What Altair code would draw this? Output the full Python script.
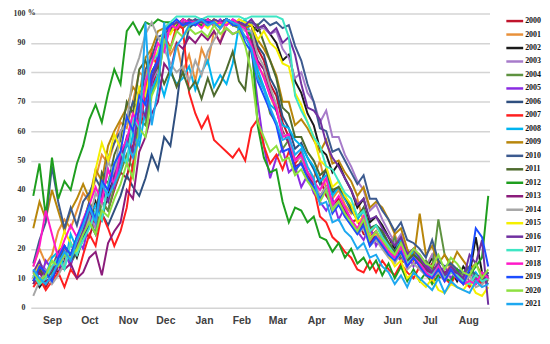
import altair as alt
import pandas as pd

years = [str(y) for y in range(2000, 2022)]
colors = ["#C0142C", "#E8903A", "#1A1A1A", "#A77BCA", "#5E9240", "#8A2BE2",
          "#2F4F7F", "#FF1F1F", "#00B4F0", "#B8860B", "#3C5A8F", "#4E6B2E",
          "#1E9E1E", "#8B1C7B", "#A6A6A6", "#F5F000", "#7030A0", "#3EE6C4",
          "#FF19C8", "#1C4CFF", "#8EE040", "#1EA8F0"]

# day of season (0 = 1 Sep), every 5 days
days = list(range(0, 366, 5))
month_names = ["Sep", "Oct", "Nov", "Dec", "Jan", "Feb", "Mar", "Apr", "May", "Jun", "Jul", "Aug"]
month_mid = [15, 45, 76, 106, 137, 167, 196, 227, 257, 288, 318, 349]
y_ticks = [0, 10, 20, 30, 40, 50, 60, 70, 80, 90, 100]

v2000 = [9,14,7,11,15,18, 16,21,26,24,31,36, 33,40,46,44,55,62, 66,74,82,90,95,94,
         97,96,98,97,98,96,97, 98,97,97,95,96,88, 84,76,72,63,58,50, 53,46,42,44,38,35,
         37,33,29,30,25,24, 26,21,19,22,16,15, 17,14,12,15,10,11, 14,11,9,13,8,10,11]
v2001 = [14,20,15,18,26,30, 27,33,39,36,44,52, 49,56,63,61,70,80, 78,88,84,93,86,90,
         80,86,77,88,83,94,90, 98,96,97,95,94,82, 79,72,67,60,56,49, 52,46,44,50,40,37,
         40,35,32,37,29,25, 28,24,21,25,19,16, 20,17,14,18,13,11, 15,12,10,14,9,11,12]
v2002 = [11,7,10,14,12,16, 22,17,24,29,36,30, 39,44,52,55,64,60, 75,80,84,93,95,97,
         96,98,97,98,96,98,97, 98,97,97,96,96,94, 96,93,90,84,86,77, 73,66,62,54,52,46,
         49,44,40,34,37,29, 31,28,24,20,23,17, 19,15,13,17,12,11, 13,9,14,11,24,12,10]
v2003 = [10,15,13,9,17,20, 18,23,27,31,27,39, 36,43,49,52,57,67, 64,77,81,91,94,96,
         95,97,96,98,97,97,95, 97,96,98,97,97,95, 95,93,94,88,85,78, 80,73,70,63,67,58,
         58,52,48,43,40,33, 35,30,26,22,25,18, 20,16,14,18,12,11, 14,12,10,13,9,10,12]
v2004 = [8,12,9,10,14,18, 15,19,23,30,25,36, 33,41,46,52,47,64, 62,73,78,90,94,96,
         95,97,96,98,97,97,96, 97,96,95,92,91,79, 75,66,63,54,57,46, 50,46,40,37,41,34,
         36,33,29,26,29,22, 25,21,19,24,17,16, 19,14,16,13,30,18, 15,13,11,14,10,9,12]
v2005 = [12,8,16,13,11,19, 14,24,20,29,33,38, 47,41,50,56,66,61, 72,76,87,90,96,95,
         97,96,98,97,97,96,98, 96,98,97,96,88,70, 55,44,51,54,46,48, 41,45,39,36,33,37,
         30,34,30,26,23,28, 21,25,22,18,16,19, 14,18,15,12,11,14, 10,13,12,9,10,8,12]
v2006 = [10,14,12,9,16,19, 16,19,24,29,25,32, 28,33,38,45,41,38, 44,52,47,58,55,69,
         86,95,97,98,97,97,96, 98,97,97,95,96,89, 86,78,74,65,61,54, 56,51,47,42,47,39,
         41,37,33,30,34,26, 28,25,21,18,22,15, 18,17,12,11,15,10, 13,12,9,8,11,10,8]
v2007 = [7,10,6,9,12,7, 13,10,18,25,21,32, 27,21,26,34,49,60, 74,86,82,93,88,96,
         95,73,66,61,65,57,55, 53,51,54,50,61,64, 55,49,52,47,53,49, 52,45,41,31,29,24,
         22,19,17,13,12,16, 12,16,13,11,15,12, 10,14,11,9,13,10, 8,12,9,7,11,8,10]
v2008 = [13,9,11,17,19,14, 25,20,26,31,35,30, 42,46,52,49,59,55, 67,74,79,72,80,76,
         78,82,74,80,84,75,79, 76,83,96,98,92,81, 75,69,67,62,61,57, 55,51,48,43,45,38,
         41,37,34,30,33,27, 28,26,22,19,23,17, 19,17,13,12,14,10, 13,12,9,8,12,9,11]
v2009 = [27,36,30,40,33,26, 33,37,42,37,47,43, 55,60,64,68,75,72, 85,88,94,95,97,95,
         98,97,97,96,98,97,97, 98,96,97,95,96,91, 88,84,79,70,70,62, 64,61,57,53,57,49,
         50,46,43,38,41,34, 36,34,30,25,27,20, 16,32,18,21,15,18, 14,19,16,13,15,11,12]
v2010 = [15,23,29,48,36,27, 34,28,36,39,44,40, 51,56,60,63,70,67, 81,85,92,93,97,96,
         98,97,98,97,98,96,97, 98,97,97,96,97,96, 98,96,97,95,96,89, 84,76,70,61,60,53,
         54,50,46,42,45,37, 37,33,30,26,29,23, 22,20,17,23,16,14, 15,13,12,14,11,10,12]
v2011 = [9,13,10,12,16,21, 18,24,29,36,31,46, 42,52,57,70,66,81, 84,78,82,76,81,75,
         80,74,77,71,78,72,76, 81,87,77,74,93,96, 90,84,78,68,66,58, 58,53,50,45,47,40,
         41,38,34,31,34,27, 28,26,22,19,22,16, 18,16,13,12,14,10, 13,11,9,8,11,10,9]
v2012 = [38,49,31,51,37,43, 40,49,55,64,69,63, 73,81,76,94,97,93, 97,96,98,97,97,96,
         98,97,97,96,98,97,97, 98,96,96,95,92,62, 51,46,47,36,29,34, 33,29,31,24,23,19,
         22,17,20,15,17,13, 16,11,15,10,14,9, 13,9,12,8,11,10, 9,13,8,11,14,17,38]
v2013 = [8,12,9,10,14,13, 15,10,12,17,19,11, 22,26,29,40,37,53, 58,66,70,83,80,90,
         88,92,90,93,91,94,90, 95,93,94,92,91,84, 81,74,67,60,56,48, 49,46,41,38,41,34,
         36,33,29,26,29,22, 25,23,19,17,21,15, 17,15,13,11,14,12, 13,11,9,8,11,9,11]
v2014 = [4,9,12,8,11,15, 22,18,26,30,39,35, 50,45,60,63,79,85, 93,97,92,88,83,80,
         82,77,84,79,87,91,95, 97,96,96,94,94,86, 82,75,69,59,58,50, 51,46,43,38,41,34,
         36,31,28,25,27,21, 23,20,17,15,19,13, 15,13,11,10,12,9, 12,10,8,11,7,8,10]
v2015 = [10,15,11,14,19,26, 22,19,29,34,47,56, 50,59,54,65,61,75, 72,83,87,95,93,97,
         96,98,97,97,95,98,96, 97,96,98,97,96,91, 94,90,88,83,82,73, 69,63,58,50,48,41,
         43,38,35,29,31,24, 25,21,18,14,16,10, 12,9,7,10,6,5, 8,7,6,9,5,4,7]
v2016 = [12,16,10,13,19,21, 17,21,26,33,29,40, 36,45,50,58,53,69, 65,78,83,93,95,97,
         96,98,97,97,96,98,97, 98,97,97,96,98,95, 96,93,95,90,92,86, 76,68,67,64,56,51,
         48,44,40,35,37,30, 31,27,24,21,24,18, 20,17,14,12,15,11, 14,12,10,18,15,23,1]
v2017 = [11,8,10,14,17,13, 22,18,23,27,33,30, 42,49,53,49,65,61, 77,84,86,95,97,99,
         99,99,99,98,99,99,99, 99,99,99,98,99,99, 99,99,99,98,92,72, 67,63,58,55,48,47,
         43,39,37,31,33,26, 28,24,21,18,21,15, 17,15,12,11,14,10, 12,11,9,8,11,9,10]
v2018 = [14,21,33,25,17,23, 28,24,30,35,41,36, 47,42,53,57,66,62, 77,83,90,87,96,95,
         98,97,97,95,98,96,97, 96,98,96,95,89,83, 78,72,68,58,59,50, 52,46,43,40,44,35,
         38,34,30,27,31,23, 26,22,19,17,21,14, 17,15,12,10,14,9, 13,10,8,9,8,12,10]
v2019 = [9,14,12,9,17,21, 18,24,29,35,30,43, 40,49,53,65,60,72, 69,80,84,94,96,98,
         96,97,96,98,97,97,95, 98,96,96,90,87,77, 72,67,62,53,54,47, 49,44,41,37,40,32,
         35,31,28,25,28,21, 24,21,18,16,19,14, 17,14,11,10,13,9, 13,10,8,13,27,24,14]
v2020 = [12,9,11,16,14,18, 17,20,25,29,25,33, 31,37,42,49,44,61, 58,72,77,91,88,94,
         92,95,93,94,92,96,93, 95,93,94,89,80,63, 58,53,55,50,51,45, 47,43,40,36,40,33,
         36,32,29,26,30,23, 26,23,20,18,22,17, 20,18,15,14,18,13, 17,15,12,11,15,10,13]
v2021 = [13,10,8,11,15,19, 16,23,28,34,29,42, 38,42,47,56,51,58, 97,62,74,97,79,89,
         92,96,97,98,96,97,95, 98,97,96,92,88,78, 74,68,63,57,58,52, 54,48,44,35,36,29,
         30,26,24,20,22,17, 18,14,12,8,11,7, 12,10,8,6,10,5, 9,7,6,5,9,7,8]

series = [v2000, v2001, v2002, v2003, v2004, v2005, v2006, v2007, v2008, v2009, v2010,
          v2011, v2012, v2013, v2014, v2015, v2016, v2017, v2018, v2019, v2020, v2021]

rows = []
for yr, vals in zip(years, series):
    for d, v in zip(days, vals):
        rows.append({"year": yr, "day": d, "pct": v})
df = pd.DataFrame(rows)
leg_df = pd.DataFrame({"year": years, "idx": list(range(len(years)))})

serif = "Liberation Serif"
sans = "Liberation Sans"

color_scale = alt.Scale(domain=years, range=colors)

month_expr = "[" + ",".join("'%s'" % m for m in month_names) + "][indexof([" + \
    ",".join(str(d) for d in month_mid) + "], datum.value)]"

lines = alt.Chart(df).mark_line(strokeWidth=2).encode(
    x=alt.X("day:Q", scale=alt.Scale(domain=[-2, 366], nice=False, zero=False),
            axis=alt.Axis(values=month_mid, labelExpr=month_expr, grid=False, ticks=False,
                          tickSize=0, domain=False, title=None, labelFont=sans,
                          labelFontSize=10.5, labelFontWeight="bold", labelColor="#404040",
                          labelPadding=8)),
    y=alt.Y("pct:Q", scale=alt.Scale(domain=[0, 100], nice=False),
            axis=alt.Axis(values=y_ticks, grid=True, gridColor="#d4d4d4", gridWidth=1.5,
                          ticks=False, tickSize=0, domain=False, title=None, labelFont=serif,
                          labelFontSize=8, labelFontWeight="bold", labelColor="#333333",
                          labelPadding=6)),
    color=alt.Color("year:N", scale=color_scale, legend=None),
    detail="year:N",
)

pct_df = pd.DataFrame({"t": ["%"]})
pct = alt.Chart(pct_df).mark_text(align="left", baseline="middle", font=serif, fontSize=8,
                                  fontWeight="bold", color="#333333").encode(
    x=alt.value(-3), y=alt.value(0), text="t:N")

main = alt.layer(lines, pct).properties(width=463, height=297)

leg_y = alt.Y("idx:Q", scale=alt.Scale(domain=[-0.566, 21.27], reverse=True, nice=False, zero=False),
              axis=None)
leg_rule = alt.Chart(leg_df).mark_rule(strokeWidth=2.5).encode(
    x=alt.value(0), x2=alt.value(17), y=leg_y,
    color=alt.Color("year:N", scale=color_scale, legend=None))
leg_text = alt.Chart(leg_df).mark_text(align="left", baseline="middle", font=serif, fontSize=8,
                                       fontWeight="bold", color="#111111").encode(
    x=alt.value(19), y=leg_y, text="year:N")
legend = alt.layer(leg_rule, leg_text).properties(width=36, height=297)

chart = alt.hconcat(main, legend, spacing=12).properties(
    padding={"left": 5, "top": 0, "right": 0, "bottom": 0}
).configure_view(strokeWidth=0)

chart.save("out.html", embed_options={"renderer": "svg", "actions": False})
